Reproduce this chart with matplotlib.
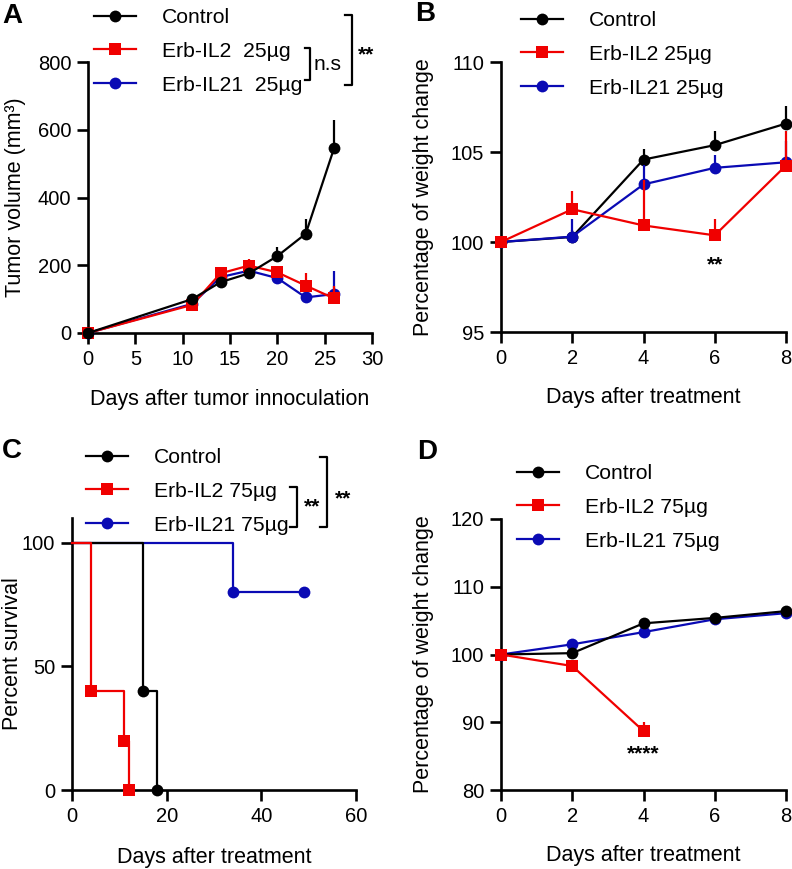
import matplotlib
matplotlib.use("Agg")
import matplotlib.pyplot as plt
import numpy as np
from matplotlib.lines import Line2D

plt.rcParams['font.family'] = ['Liberation Sans', 'DejaVu Sans']

BLACK = '#000000'
RED = '#f00000'
BLUE = '#0a0ab4'

# ---------------- Panel A data ----------------
a_days = [0, 11, 14, 17, 20, 23, 26]
a_ctrl = [0, 100, 150, 176, 227, 293, 546]
a_ctrl_err = [0, 8, 8, 10, 26, 44, 82]
a_il2 = [0, 83, 176, 199, 179, 140, 102]
a_il2_err = [0, 6, 10, 20, 16, 36, 38]
a_il21 = [0, 86, 165, 184, 162, 105, 115]
a_il21_err = [0, 5, 8, 10, 10, 6, 69]

# ---------------- Panel B data ----------------
b_days = [0, 2, 4, 6, 8]
b_ctrl = [100, 100.28, 104.58, 105.38, 106.58]
b_ctrl_err = [0, 0.38, 0.56, 0.81, 0.99]
b_il2 = [100, 101.82, 100.92, 100.37, 104.25]
b_il2_err = [0, 1.03, 2.55, 0.93, 1.9]
b_il21 = [100, 100.3, 103.2, 104.12, 104.43]
b_il21_err = [0, 0.96, 1.07, 0.72, 1.17]

# ---------------- Panel C data (survival) ----------------
c_ctrl_t = [0, 15, 18]
c_ctrl_s = [100, 40, 0]
c_il2_t = [0, 4, 11, 12]
c_il2_s = [100, 40, 20, 0]
c_il21_t = [0, 34, 49]
c_il21_s = [100, 80, 80]

# ---------------- Panel D data ----------------
d_days = [0, 2, 4, 6, 8]
d_ctrl = [100, 100.2, 104.6, 105.4, 106.4]
d_ctrl_err = [0, 0.2, 0.3, 0.2, 0.8]
d_il2_days = [0, 2, 4]
d_il2 = [100, 98.3, 88.7]
d_il2_err = [0, 0.3, 1.3]
d_il21 = [100, 101.5, 103.3, 105.2, 106.1]
d_il21_err = [0, 0.2, 0.2, 0.2, 0.3]

W, H = 792, 869
fig = plt.figure(figsize=(W / 100, H / 100), dpi=100)


def px_axes(left, right, top, bottom):
    return fig.add_axes([left / W, 1 - bottom / H, (right - left) / W, (bottom - top) / H])


TICK_FS = 14.5
LABEL_FS = 15.5
LEG_FS = 15.2
LW = 1.6
SPW = 1.9
MS = 8.5


def style(ax):
    for s in ['top', 'right']:
        ax.spines[s].set_visible(False)
    for s in ['left', 'bottom']:
        ax.spines[s].set_linewidth(SPW)
    ax.tick_params(direction='out', length=8, width=SPW, labelsize=TICK_FS, pad=4)


def labels(ax, xl, yl, xcoord_y, ycoord_x):
    ax.set_xlabel(xl, fontsize=LABEL_FS)
    ax.set_ylabel(yl, fontsize=LABEL_FS)
    ax.xaxis.set_label_coords(0.5, xcoord_y)
    ax.xaxis.label.set_va('center')
    ax.yaxis.set_label_coords(ycoord_x, 0.5)
    ax.yaxis.label.set_va('baseline')


def errline(ax, x, y, err, color, marker, z):
    ax.errorbar(x, y, yerr=[np.zeros(len(err)), err], color=color, marker=marker,
                ms=MS, lw=LW, elinewidth=LW, capsize=4.5, capthick=LW, clip_on=False,
                zorder=z, markeredgewidth=0)


def legend(ax, handles_labels, x, y, spacing=0.7):
    hs = [Line2D([0], [0], color=c, marker=m, ms=MS, lw=LW, markeredgewidth=0)
          for c, m, _ in handles_labels]
    ls = [l for _, _, l in handles_labels]
    leg = ax.legend(hs, ls, loc='upper left', bbox_to_anchor=(x, y), frameon=False,
                    fontsize=LEG_FS, handlelength=2.0, handletextpad=1.2,
                    labelspacing=spacing, borderaxespad=0, borderpad=0)
    return leg


def bracket(ax, x, y0, y1, w=0.02):
    ax.plot([x - w, x, x, x - w], [y0, y0, y1, y1], color='k', lw=1.6,
            transform=ax.transAxes, clip_on=False)


# ================= Panel A =================
A_L, A_R, A_T, A_B = 88, 372, 62, 333
axA = px_axes(A_L, A_R, A_T, A_B)
style(axA)
errline(axA, a_days, a_il21, a_il21_err, BLUE, 'o', 3)
errline(axA, a_days, a_il2, a_il2_err, RED, 's', 4)
errline(axA, a_days, a_ctrl, a_ctrl_err, BLACK, 'o', 5)
axA.set_xlim(0, 30)
axA.set_ylim(0, 800)
axA.set_xticks(range(0, 31, 5))
axA.set_yticks(range(0, 801, 200))


def ay(py):
    return (A_B - py) / (A_B - A_T)


def ax_(px):
    return (px - A_L) / (A_R - A_L)


labels(axA, 'Days after tumor innoculation', 'Tumor volume (mm³)', ay(400), ax_(21.5))
legend(axA, [(BLACK, 'o', 'Control'), (RED, 's', 'Erb-IL2  25µg'),
             (BLUE, 'o', 'Erb-IL21  25µg')], ax_(94), ay(8))
bracket(axA, ax_(310), ay(48), ay(80), w=0.018)
axA.text(ax_(328), ay(64), 'n.s', fontsize=LEG_FS, ha='center', va='center',
         transform=axA.transAxes)
bracket(axA, ax_(352), ay(15), ay(85), w=0.025)
axA.text(ax_(366), ay(55), '**', fontsize=LEG_FS, fontweight='bold', ha='center',
         va='center', transform=axA.transAxes)
fig.text(2 / W, 1 - 16 / H, 'A', fontsize=20, fontweight='bold', va='center', ha='left')

# ================= Panel B =================
B_L, B_R, B_T, B_B = 501, 786, 62, 332
axB = px_axes(B_L, B_R, B_T, B_B)
style(axB)
errline(axB, b_days, b_ctrl, b_ctrl_err, BLACK, 'o', 3)
errline(axB, b_days, b_il21, b_il21_err, BLUE, 'o', 4)
errline(axB, b_days, b_il2, b_il2_err, RED, 's', 5)
axB.set_xlim(0, 8)
axB.set_ylim(95, 110)
axB.set_xticks(range(0, 9, 2))
axB.set_yticks([95, 100, 105, 110])


def by(py):
    return (B_B - py) / (B_B - B_T)


def bx(px):
    return (px - B_L) / (B_R - B_L)


labels(axB, 'Days after treatment', 'Percentage of weight change', by(398), bx(428.5))
legend(axB, [(BLACK, 'o', 'Control'), (RED, 's', 'Erb-IL2 25µg'),
             (BLUE, 'o', 'Erb-IL21 25µg')], bx(521), by(11))
axB.text(6, 98.75, '**', fontsize=LEG_FS, fontweight='bold', ha='center', va='center')
fig.text(415 / W, 1 - 14 / H, 'B', fontsize=20, fontweight='bold', va='center', ha='left')

# ================= Panel C =================
C_L, C_R, C_T, C_B = 72, 356, 518, 790
axC = px_axes(C_L, C_R, C_T, C_B)
style(axC)


def surv(ax, t, s, color, marker, z):
    ax.step(t, s, where='post', color=color, lw=LW, zorder=z, clip_on=False)
    ax.plot(t[1:], s[1:], ls='none', marker=marker, color=color, ms=MS,
            markeredgewidth=0, zorder=z, clip_on=False)


surv(axC, c_il21_t, c_il21_s, BLUE, 'o', 3)
surv(axC, c_ctrl_t, c_ctrl_s, BLACK, 'o', 4)
surv(axC, c_il2_t, c_il2_s, RED, 's', 5)
axC.set_xlim(0, 60)
axC.set_ylim(0, 110)
axC.set_xticks([0, 20, 40, 60])
axC.set_yticks([0, 50, 100])


def cy(py):
    return (C_B - py) / (C_B - C_T)


def cx(px):
    return (px - C_L) / (C_R - C_L)


labels(axC, 'Days after treatment', 'Percent survival', cy(857), cx(18))
legend(axC, [(BLACK, 'o', 'Control'), (RED, 's', 'Erb-IL2 75µg'),
             (BLUE, 'o', 'Erb-IL21 75µg')], cx(86), cy(448))
bracket(axC, cx(297), cy(487), cy(527), w=0.025)
axC.text(cx(312), cy(507), '**', fontsize=LEG_FS, fontweight='bold', ha='center',
         va='center', transform=axC.transAxes)
bracket(axC, cx(327), cy(457), cy(527), w=0.025)
axC.text(cx(343), cy(499), '**', fontsize=LEG_FS, fontweight='bold', ha='center',
         va='center', transform=axC.transAxes)
fig.text(2 / W, 1 - 451 / H, 'C', fontsize=20, fontweight='bold', va='center', ha='left')

# ================= Panel D =================
D_L, D_R, D_T, D_B = 501, 786, 519, 790
axD = px_axes(D_L, D_R, D_T, D_B)
style(axD)
errline(axD, d_days, d_il21, d_il21_err, BLUE, 'o', 3)
errline(axD, d_days, d_ctrl, d_ctrl_err, BLACK, 'o', 4)
errline(axD, d_il2_days, d_il2, d_il2_err, RED, 's', 5)
axD.set_xlim(0, 8)
axD.set_ylim(80, 120)
axD.set_xticks(range(0, 9, 2))
axD.set_yticks([80, 90, 100, 110, 120])


def dy(py):
    return (D_B - py) / (D_B - D_T)


def dx(px):
    return (px - D_L) / (D_R - D_L)


labels(axD, 'Days after treatment', 'Percentage of weight change', dy(855), dx(428.5))
legend(axD, [(BLACK, 'o', 'Control'), (RED, 's', 'Erb-IL2 75µg'),
             (BLUE, 'o', 'Erb-IL21 75µg')], dx(517), dy(464))
axD.text(4, 85.4, '****', fontsize=LEG_FS, fontweight='bold', ha='center', va='center')
fig.text(417 / W, 1 - 452 / H, 'D', fontsize=20, fontweight='bold', va='center', ha='left')

fig.savefig('out.png', dpi=100)
